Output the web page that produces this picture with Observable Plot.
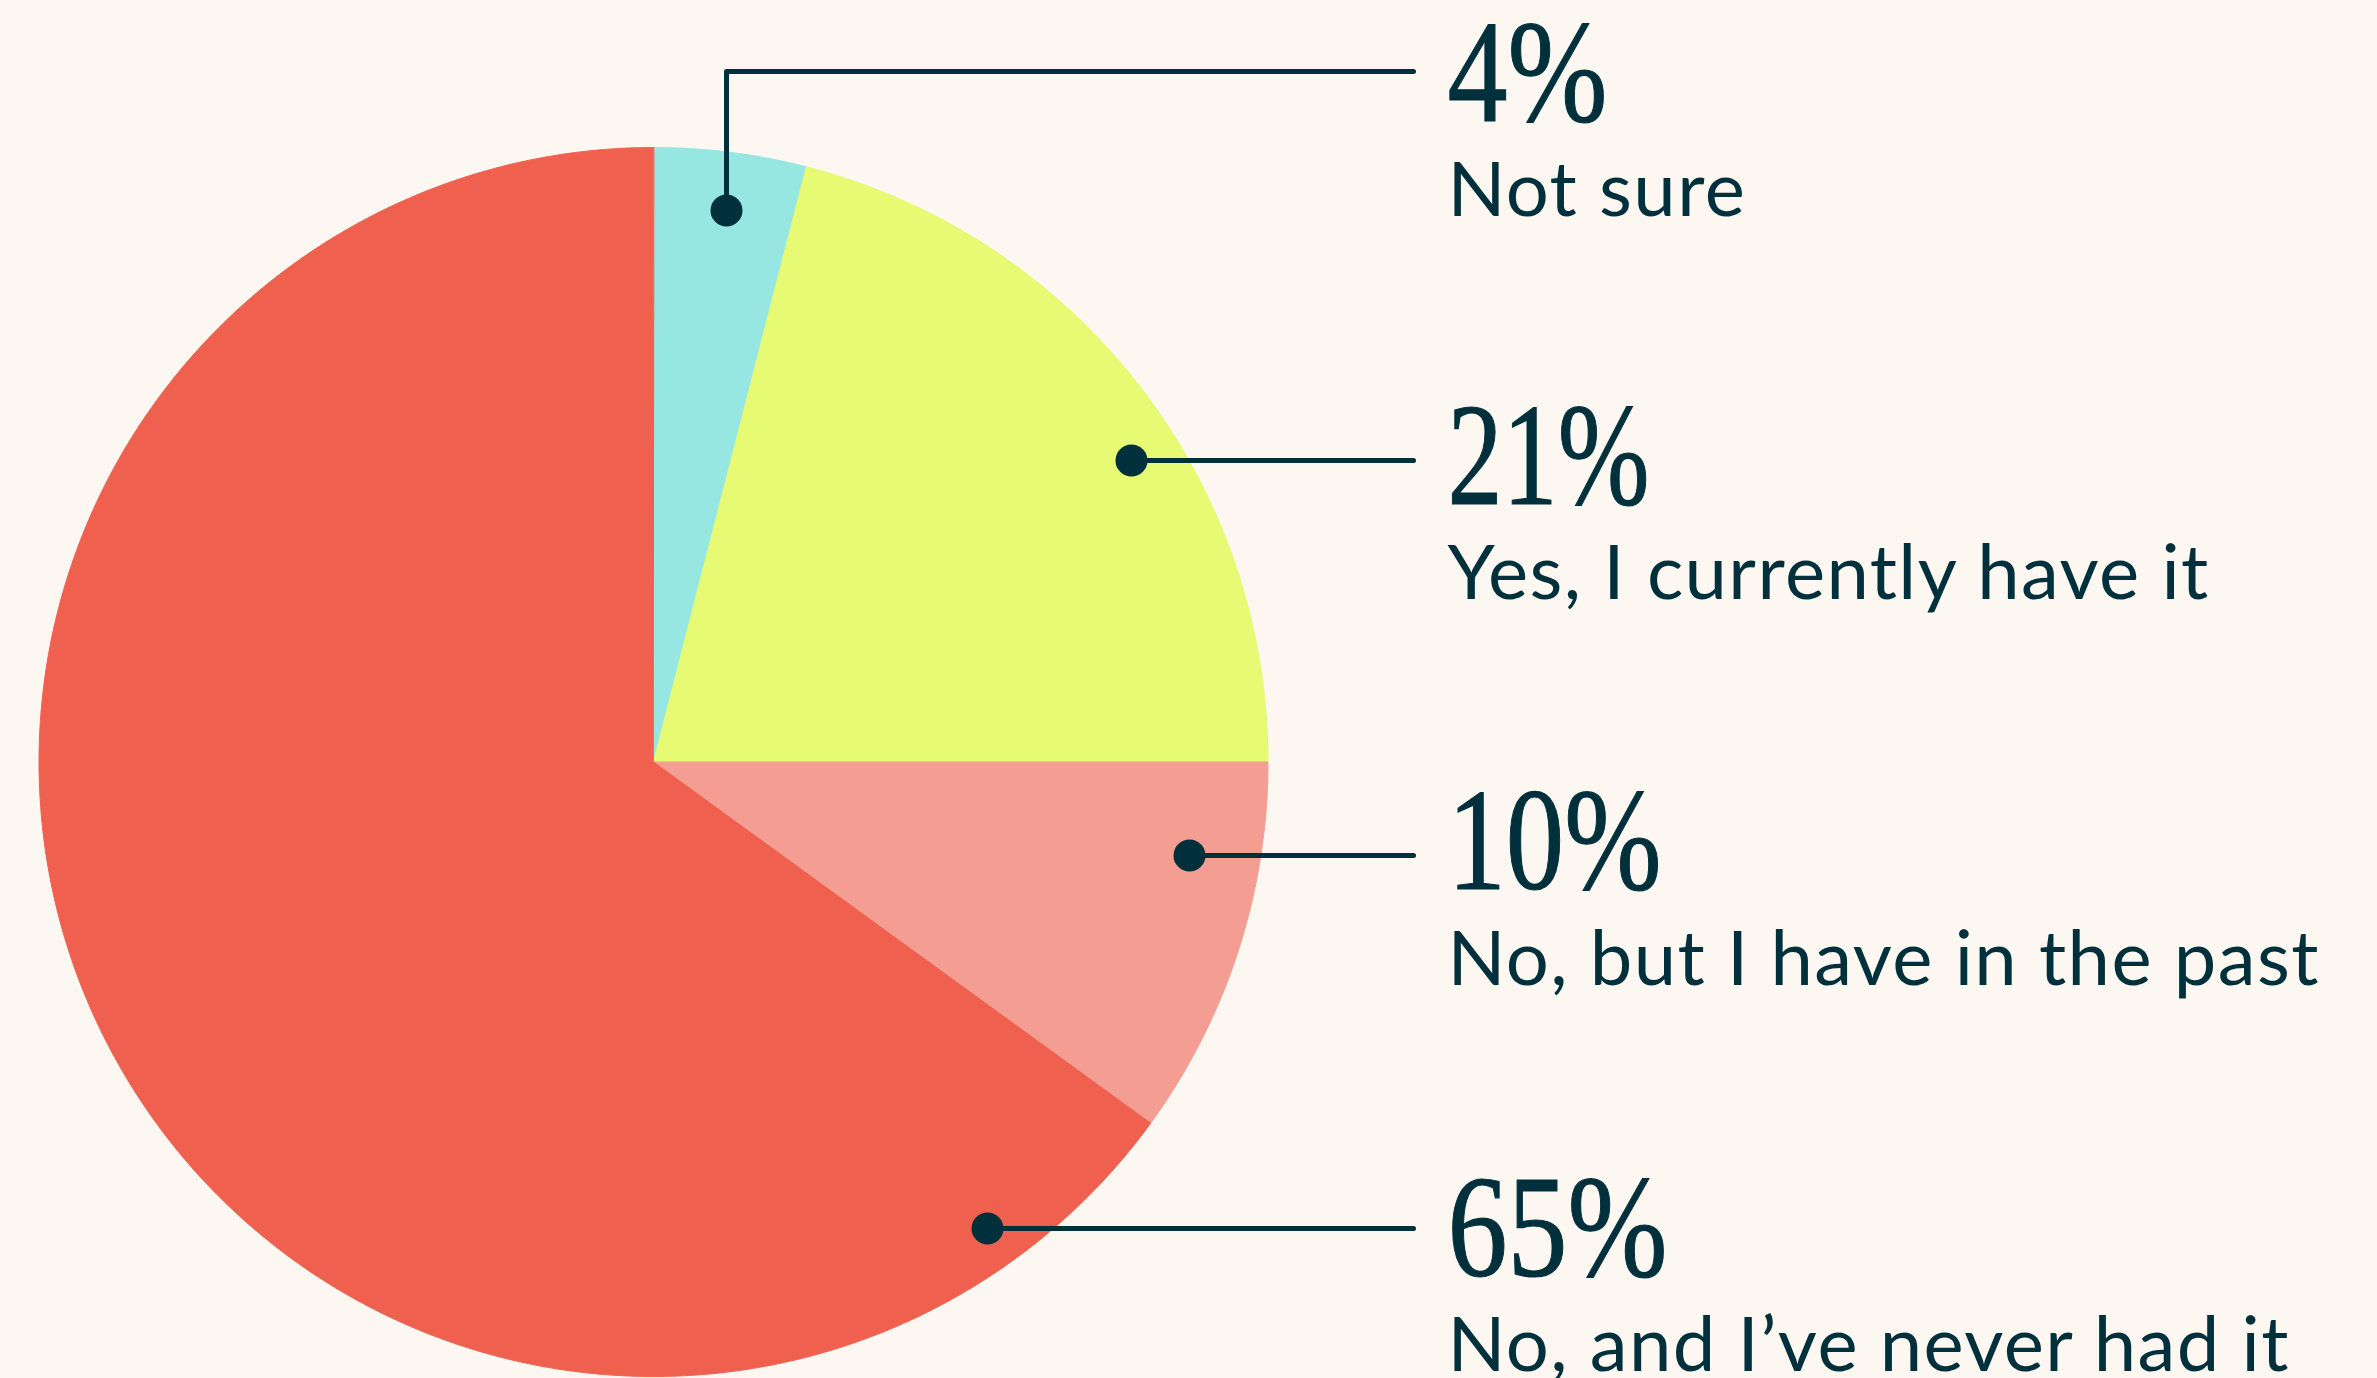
<!DOCTYPE html>
<html><head><meta charset="utf-8">
<script src="https://cdn.jsdelivr.net/npm/d3@7"></script>
<script src="https://cdn.jsdelivr.net/npm/@observablehq/plot@0.6"></script>
<style>
html,body{margin:0;padding:0;background:#FCF7F1;}
#chart svg{display:block;}
</style></head><body><div id="chart"></div>
<script>
// ---- Data ----
const categories = ["Not sure", "Yes, I currently have it", "No, but I have in the past", "No, and I’ve never had it"];
const values = [4, 21, 10, 65];
const valueLabels = ["4%", "21%", "10%", "65%"];
const sliceColors = ["#96E6E1", "#E6FA73", "#F49E93", "#F0604F"];

// ---- Layout (pixels) ----
const W = 2377, H = 1378;
const pie = {cx: 653, cy: 761.5, r: 614.5};
const ink = "#00303C";
const leaderEndX = 1413;
const textX = 1447;
const leaderLineY = [71, 460, 855, 1228];
const leaderDotX = [726, 1131, 1189, 987];
const leaderDotY = [210, 460, 855, 1228];
const numberBaseline = [120, 503, 888, 1275];
const labelBaseline = [215, 598, 984, 1370];
const numberWidth = [160, 202, 214, 220];

// ---- Pie geometry from values ----
const total = d3.sum(values);
let acc = 0;
const arcs = values.map((v, i) => {
  const a0 = acc / total * 2 * Math.PI; acc += v;
  return {i, a0, a1: acc / total * 2 * Math.PI};
});
const pieRows = [];
for (const {i, a0, a1} of arcs) {
  pieRows.push({cat: categories[i], x: pie.cx, y: pie.cy});
  const n = Math.max(2, Math.ceil((a1 - a0) / (Math.PI / 720)));
  for (let k = 0; k <= n; k++) {
    const a = a0 + (a1 - a0) * k / n;
    pieRows.push({cat: categories[i], x: pie.cx + pie.r * Math.sin(a), y: pie.cy - pie.r * Math.cos(a)});
  }
}

// ---- Leaders ----
const leaderRows = [];
const dotRows = [];
categories.forEach((c, i) => {
  leaderRows.push({cat: c, x: leaderDotX[i], y: leaderDotY[i]});
  if (leaderDotY[i] !== leaderLineY[i]) leaderRows.push({cat: c, x: leaderDotX[i], y: leaderLineY[i]});
  leaderRows.push({cat: c, x: leaderEndX, y: leaderLineY[i]});
  dotRows.push({cat: c, x: leaderDotX[i], y: leaderDotY[i]});
});

const textRows = categories.map((c, i) => ({
  cat: c, value: valueLabels[i], x: textX, nb: numberBaseline[i], lb: labelBaseline[i]
}));

const plot = Plot.plot({
  width: W, height: H, margin: 0,
  x: {domain: [0, W], range: [0, W], axis: null},
  y: {domain: [0, H], range: [0, H], axis: null},
  color: {domain: categories, range: sliceColors},
  style: {background: "#FCF7F1"},
  marks: [
    Plot.line(pieRows, {x: "x", y: "y", z: "cat", fill: "cat", stroke: "cat", strokeWidth: 1, curve: "linear-closed"}),
    Plot.line(leaderRows, {x: "x", y: "y", z: "cat", stroke: ink, strokeWidth: 5}),
    Plot.dot(dotRows, {x: "x", y: "y", r: 16, fill: ink}),
    Plot.text(textRows, {x: "x", y: "nb", text: "value", textAnchor: "start", lineAnchor: "bottom",
      fontSize: 146, fontFamily: "Liberation Serif", fill: ink}),
    Plot.text(textRows, {x: "x", y: "lb", text: "cat", textAnchor: "start", lineAnchor: "bottom",
      fontSize: 76, fontFamily: "Lato", fill: ink})
  ]
});
document.getElementById("chart").appendChild(plot);
plot.querySelectorAll("text").forEach(t => {
  const s = t.textContent;
  const vi = valueLabels.indexOf(s);
  if (vi >= 0) {
    t.setAttribute("textLength", numberWidth[vi]);
    t.setAttribute("lengthAdjust", "spacingAndGlyphs");
    t.style.stroke = ink;
    t.style.strokeWidth = "1.2px";
  }
  if (categories.includes(s)) t.style.letterSpacing = "1.4px";
});
</script>
</body></html>
